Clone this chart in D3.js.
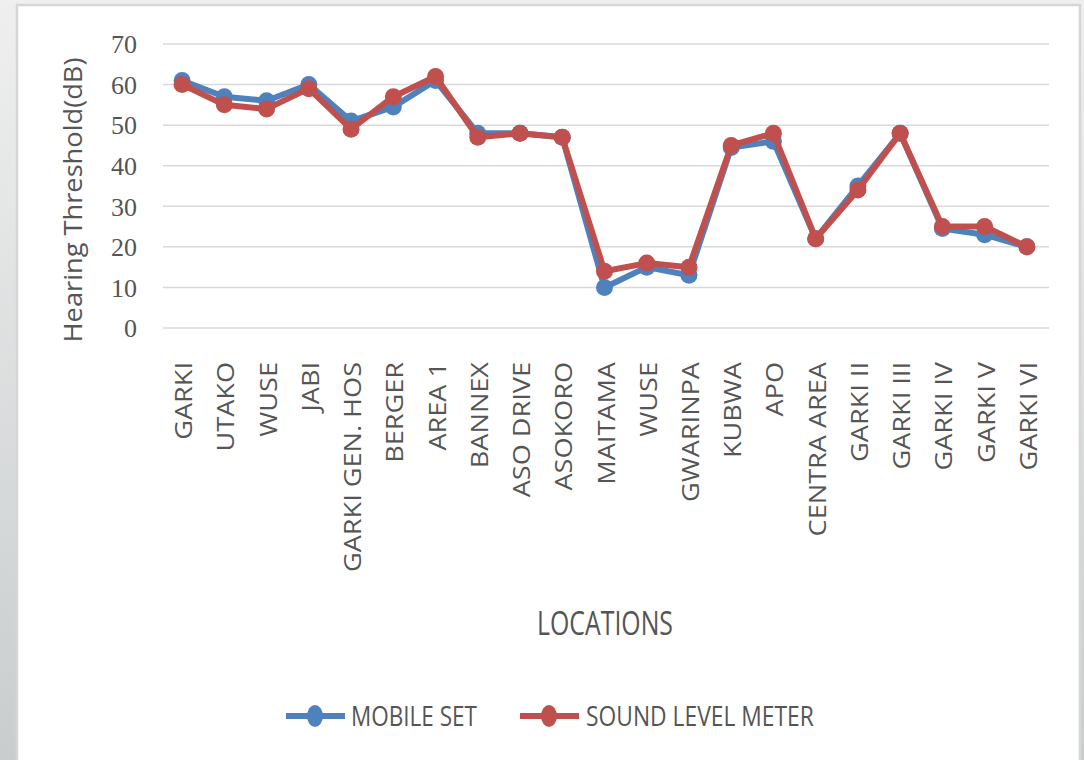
<!DOCTYPE html>
<html>
<head>
<meta charset="utf-8">
<script src="https://cdn.jsdelivr.net/npm/d3@7"></script>
<style>
	body { margin: 0; background: #ececec; }
	svg { display: block; }
	text { fill: #555; }
</style>
</head>
<body>
<svg id="chart" width="1084" height="760"></svg>
<script>
// Data
var locations = ["GARKI", "UTAKO", "WUSE", "JABI", "GARKI GEN. HOS", "BERGER", "AREA 1", "BANNEX",
	"ASO DRIVE", "ASOKORO", "MAITAMA", "WUSE", "GWARINPA", "KUBWA", "APO", "CENTRA AREA",
	"GARKI II", "GARKI III", "GARKI IV", "GARKI V", "GARKI VI"];
var mobileSet = [61, 57, 56, 60, 51, 54.5, 61, 48, 48, 47, 10, 15, 13, 44.5, 46, 22, 35, 48, 24.5, 23, 20];
var soundLevelMeter = [60, 55, 54, 59, 49, 57, 62, 47, 48, 47, 14, 16, 15, 45, 48, 22, 34, 48, 25, 25, 20];
var yTicks = [0, 10, 20, 30, 40, 50, 60, 70];

var series = [
	{name: "MOBILE SET", values: mobileSet, color: "#4f81bd"},
	{name: "SOUND LEVEL METER", values: soundLevelMeter, color: "#c0504d"}
];

var svg = d3.select("#chart");

// page background + white panel
var defs = svg.append("defs");
var grad = defs.append("linearGradient").attr("id", "bg").attr("x1", 0).attr("y1", 0).attr("x2", 0).attr("y2", 1);
grad.append("stop").attr("offset", "0%").attr("stop-color", "#efefef");
grad.append("stop").attr("offset", "100%").attr("stop-color", "#c9cdce");
svg.append("rect").attr("width", 1084).attr("height", 760).attr("fill", "url(#bg)");
svg.append("rect").attr("x", 17).attr("y", 5).attr("width", 1063).attr("height", 770)
	.attr("fill", "#fff").attr("stroke", "#d6d6d6").attr("stroke-width", 2.5);

var x = d3.scalePoint()
	.domain(d3.range(locations.length))
	.range([161, 1048])
	.padding(0.5);

var y = d3.scaleLinear()
	.domain([0, 70])
	.range([328, 44]);

// scale text along its length so it fits the width seen in the picture
function fitText(sel, target) {
	var w = sel.node().getComputedTextLength();
	return target / w;
}

// gridlines
svg.append("g").selectAll("line")
	.data(yTicks)
	.join("line")
	.attr("x1", 163).attr("x2", 1049)
	.attr("y1", function(d) { return y(d); })
	.attr("y2", function(d) { return y(d); })
	.attr("stroke", "#d9d9d9")
	.attr("stroke-width", 1.5);

// y axis labels
var yAxis = d3.axisLeft(y).tickValues(yTicks).tickSize(0).tickPadding(0);
var yg = svg.append("g")
	.attr("transform", "translate(137,0)")
	.call(yAxis);
yg.select(".domain").remove();
yg.selectAll("text")
	.attr("font-family", "'Liberation Serif', serif")
	.attr("font-size", 26)
	.attr("dy", "0.34em")
	.style("fill", "#555");

// y title
var yTitle = svg.append("text")
	.attr("text-anchor", "middle")
	.attr("font-family", "'Open Sans', sans-serif")
	.attr("font-size", 25)
	.text("Hearing Threshold(dB)");
var s = fitText(yTitle, 285);
yTitle.attr("transform", "translate(82,200) rotate(-90) scale(" + s + ",1)");

// category labels
var catG = svg.append("g");
var cats = catG.selectAll("text")
	.data(locations)
	.join("text")
	.attr("text-anchor", "end")
	.attr("font-family", "'Open Sans', sans-serif")
	.attr("font-size", 24.5)
	.text(function(d) { return d; });
var catScale = fitText(cats.filter(function(d, i) { return i == 4; }), 210);
cats.attr("transform", function(d, i) {
	return "translate(" + (x(i) + 10) + ",362) rotate(-90) scale(" + catScale + ",1)";
});

// x title
var xTitle = svg.append("text")
	.attr("text-anchor", "middle")
	.attr("font-family", "'Open Sans', sans-serif")
	.attr("font-size", 32)
	.text("LOCATIONS");
s = fitText(xTitle, 136);
xTitle.attr("transform", "translate(605,635) scale(" + s + ",1)");

// series lines and markers
var line = d3.line()
	.x(function(d, i) { return x(i); })
	.y(function(d) { return y(d); });

series.forEach(function(ser) {
	var g = svg.append("g");
	g.append("path")
		.datum(ser.values)
		.attr("d", line)
		.attr("fill", "none")
		.attr("stroke", ser.color)
		.attr("stroke-width", 6)
		.attr("stroke-linejoin", "round");
	g.selectAll("circle")
		.data(ser.values)
		.join("circle")
		.attr("cx", function(d, i) { return x(i); })
		.attr("cy", function(d) { return y(d); })
		.attr("r", 8.5)
		.attr("fill", ser.color);
});

// legend
var legendPos = [{lx: 286, tx: 351, w: 126}, {lx: 520, tx: 586, w: 228}];
series.forEach(function(ser, i) {
	var p = legendPos[i];
	var g = svg.append("g");
	g.append("line")
		.attr("x1", p.lx).attr("x2", p.lx + 59)
		.attr("y1", 716).attr("y2", 716)
		.attr("stroke", ser.color)
		.attr("stroke-width", 6);
	g.append("ellipse")
		.attr("cx", p.lx + 29).attr("cy", 716)
		.attr("rx", 8).attr("ry", 11)
		.attr("fill", ser.color);
	var t = g.append("text")
		.attr("font-family", "'Open Sans', sans-serif")
		.attr("font-size", 28)
		.text(ser.name);
	var k = fitText(t, p.w);
	t.attr("transform", "translate(" + p.tx + ",726) scale(" + k + ",1)");
});
</script>
</body>
</html>
